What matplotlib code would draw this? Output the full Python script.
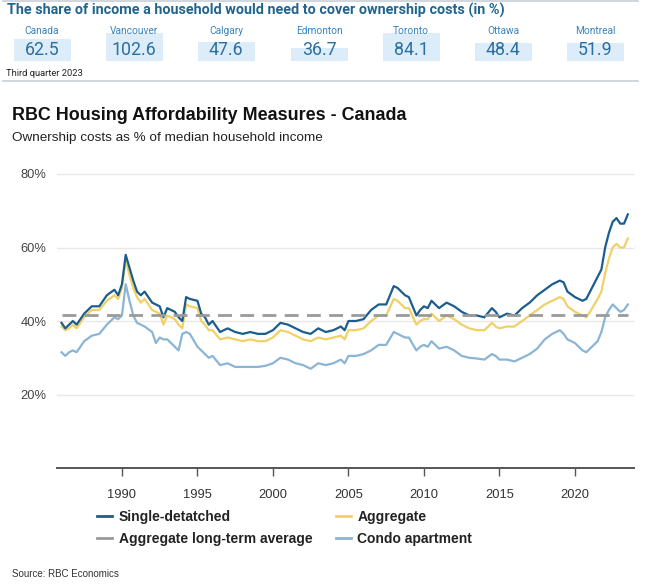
import matplotlib
matplotlib.use("Agg")
import matplotlib.pyplot as plt
from matplotlib.patches import Rectangle
from matplotlib.lines import Line2D

# ---------------- data ----------------
cities = ["Canada", "Vancouver", "Calgary", "Edmonton", "Toronto", "Ottawa", "Montreal"]
city_values = [62.5, 102.6, 47.6, 36.7, 84.1, 48.4, 51.9]

dates = [1986.0, 1986.25, 1986.5, 1986.75, 1987.0, 1987.5, 1988.0, 1988.5, 1989.0, 1989.5,
         1989.75, 1990.0, 1990.25, 1990.5, 1990.75, 1991.0, 1991.25, 1991.5, 1992.0, 1992.25,
         1992.5, 1992.75, 1993.0, 1993.5, 1993.75, 1994.0, 1994.25, 1994.5, 1995.0, 1995.25,
         1995.5, 1995.75, 1996.0, 1996.5, 1997.0, 1997.5, 1998.0, 1998.5, 1999.0, 1999.5,
         2000.0, 2000.5, 2001.0, 2001.5, 2002.0, 2002.5, 2003.0, 2003.5, 2004.0, 2004.5,
         2004.75, 2005.0, 2005.5, 2006.0, 2006.5, 2007.0, 2007.5, 2008.0, 2008.25, 2008.75,
         2009.0, 2009.5, 2009.75, 2010.0, 2010.25, 2010.5, 2011.0, 2011.5, 2012.0, 2012.5,
         2013.0, 2013.5, 2014.0, 2014.5, 2014.75, 2015.0, 2015.5, 2016.0, 2016.5, 2017.0,
         2017.5, 2018.0, 2018.5, 2019.0, 2019.25, 2019.5, 2020.0, 2020.5, 2020.75, 2021.0,
         2021.5, 2021.75, 2022.0, 2022.25, 2022.5, 2022.75, 2023.0, 2023.25, 2023.5]

single_detached = [39.5, 38.0, 39.0, 40.0, 39.0, 42.0, 44.0, 44.0, 47.0, 48.5,
                   47.0, 50.0, 58.0, 54.5, 51.0, 48.0, 47.0, 48.0, 45.0, 44.5,
                   44.0, 41.0, 43.5, 42.5, 41.0, 40.0, 46.5, 46.0, 45.5, 42.0,
                   41.0, 39.0, 40.0, 37.0, 38.0, 37.0, 36.5, 37.0, 36.5, 36.5,
                   37.5, 39.5, 39.0, 38.0, 37.0, 36.5, 38.0, 37.0, 37.5, 38.5,
                   37.5, 40.0, 40.0, 40.5, 43.0, 44.5, 44.5, 49.5, 49.0, 47.0,
                   46.5, 41.5, 43.0, 44.0, 43.5, 45.5, 43.5, 45.0, 44.0, 42.5,
                   41.5, 41.5, 41.0, 43.5, 42.5, 41.0, 42.0, 41.5, 43.5, 45.0,
                   47.0, 48.5, 50.0, 51.0, 50.5, 48.0, 46.5, 45.5, 46.0, 48.0,
                   52.0, 54.0, 60.0, 64.0, 67.0, 68.0, 66.5, 66.5, 69.0]

aggregate = [38.5, 37.5, 38.0, 39.0, 38.0, 41.0, 43.0, 43.0, 45.5, 47.0,
             46.0, 49.0, 56.5, 52.5, 49.0, 46.5, 45.0, 46.0, 43.0, 42.5,
             42.0, 39.0, 41.5, 40.5, 39.0, 38.0, 44.5, 44.0, 43.5, 40.0,
             39.0, 37.5, 37.5, 35.0, 35.5, 35.0, 34.5, 35.0, 34.5, 34.5,
             35.5, 37.5, 37.0, 36.0, 35.0, 34.5, 35.5, 35.0, 35.5, 36.0,
             35.0, 37.5, 37.5, 38.0, 40.0, 41.5, 41.5, 46.0, 45.5, 43.5,
             43.5, 39.0, 40.0, 40.5, 40.5, 42.0, 40.0, 41.5, 40.5, 39.0,
             38.0, 37.5, 37.5, 39.5, 38.5, 38.0, 38.5, 38.5, 40.0, 41.5,
             43.0, 44.5, 45.5, 46.5, 46.0, 44.0, 42.5, 41.5, 41.0, 42.5,
             46.0, 48.0, 53.0, 57.0, 60.0, 61.0, 60.0, 60.0, 62.5]

condo = [31.5, 30.5, 31.5, 32.0, 31.5, 34.5, 36.0, 36.5, 39.0, 41.0,
         40.5, 41.5, 50.0, 45.5, 41.5, 39.5, 39.0, 38.5, 37.0, 34.0,
         35.5, 35.0, 35.0, 33.0, 32.0, 36.5, 37.0, 36.5, 33.0, 32.0,
         31.0, 30.0, 30.5, 28.0, 28.5, 27.5, 27.5, 27.5, 27.5, 27.8,
         28.5, 30.0, 29.5, 28.5, 28.0, 27.0, 28.5, 28.0, 28.5, 29.5,
         28.5, 30.5, 30.5, 31.0, 32.0, 33.5, 33.5, 37.0, 36.5, 35.5,
         35.5, 32.0, 33.0, 33.5, 33.0, 34.5, 32.5, 33.0, 32.0, 30.5,
         30.0, 29.8, 29.5, 31.0, 30.5, 29.5, 29.5, 29.0, 30.0, 31.0,
         32.5, 35.0, 36.5, 37.5, 36.5, 35.0, 34.0, 32.0, 31.5, 32.5,
         34.5, 37.0, 41.0, 43.0, 44.5, 43.5, 42.5, 43.0, 44.5]

long_term_avg = 41.5
year_ticks = [1990, 1995, 2000, 2005, 2010, 2015, 2020]
y_ticks = [20, 40, 60, 80]

# ---------------- styling ----------------
W, H = 660, 584
C_SD = "#1b5e8e"
C_AGG = "#f1d165"
C_AVG = "#9a9a9a"
C_CONDO = "#8bb5d5"
BANNER = "#20658f"
NARROW = ["Roboto", "DejaVu Sans"]
SANS = ["Liberation Sans", "DejaVu Sans"]

fig = plt.figure(figsize=(W / 100, H / 100), dpi=100)
fig.patch.set_facecolor("white")
renderer = fig.canvas.get_renderer()

def fx(px):
    return px / W

def fy(py):
    return 1 - py / H

def fit_width(t, target_px):
    w = t.get_window_extent(renderer=renderer).width
    if w > 0:
        t.set_fontsize(t.get_fontsize() * target_px / w)

# ---- top banner ----
fig.add_artist(Line2D([fx(3), fx(638)], [fy(0.8), fy(0.8)], color="#c8d0d8", lw=1.2))
fig.add_artist(Line2D([fx(3), fx(638)], [fy(80.5), fy(80.5)], color="#c8d0d8", lw=1.2))
t = fig.text(fx(7), fy(10), "The share of income a household would need to cover ownership costs (in %)",
             family=NARROW, weight="bold", fontsize=11, color=BANNER, va="center", ha="left")
fit_width(t, 500)

centers = [42, 134, 226, 319, 411, 503, 595]
box_heights = [22, 28, 19, 13, 28, 18, 18]
box_w = 57
for c, name, val, bh in zip(centers, cities, city_values, box_heights):
    fig.add_artist(Rectangle((fx(c - box_w / 2), fy(61)), box_w / W, bh / H,
                             facecolor="#dcedf9", edgecolor="none"))
    fig.text(fx(c), fy(31), name, family=NARROW, fontsize=7.3, color="#3a84bd",
             ha="center", va="center")
    fig.text(fx(c), fy(50), f"{val:.1f}", family=NARROW, fontsize=12.8, color="#2a6f9f",
             ha="center", va="center")
t = fig.text(fx(6), fy(74), "Third quarter 2023", family=NARROW, fontsize=6.5, color="#222222",
             ha="left", va="center")
fit_width(t, 77)

# ---- chart titles ----
fig.text(fx(12), fy(115), "RBC Housing Affordability Measures - Canada", family=SANS,
         weight="bold", fontsize=12.85, color="#111111", ha="left", va="center")
fig.text(fx(12), fy(138), "Ownership costs as % of median household income", family=SANS,
         fontsize=9.7, color="#222222", ha="left", va="center")

# ---- axes ----
ax_left, ax_right = 57, 634
y0_px = 468
ymax = 82
px_per = (320 - 173) / 40.0
top_px = y0_px - ymax * px_per
ax = fig.add_axes([fx(ax_left), fy(y0_px), (ax_right - ax_left) / W, (y0_px - top_px) / H])
ax.set_xlim(1985.7, 2023.91)
ax.set_ylim(0, ymax)

for v in y_ticks:
    ax.axhline(v, color="#e8e8e8", lw=1, zorder=0)

ax.plot(dates, condo, color=C_CONDO, lw=1.6, zorder=3)
ax.plot(dates, aggregate, color=C_AGG, lw=1.6, zorder=4)
ax.plot(dates, single_detached, color=C_SD, lw=1.6, zorder=5)
ax.plot([dates[0], dates[-1]], [long_term_avg, long_term_avg], color=C_AVG, lw=2.0,
        dashes=(5, 3), zorder=6)

for s in ["top", "right", "left"]:
    ax.spines[s].set_visible(False)
ax.spines["bottom"].set_color("#555555")
ax.spines["bottom"].set_linewidth(1.4)

ax.set_xticks(year_ticks)
ax.set_xticklabels([str(y) for y in year_ticks], family=SANS, fontsize=9.3, color="#333333")
ax.tick_params(axis="x", length=6, width=1, color="#555555", pad=9)
ax.set_yticks(y_ticks)
ax.set_yticklabels([f"{v}%" for v in y_ticks], family=SANS, fontsize=9.3, color="#444444")
ax.tick_params(axis="y", length=0, pad=7.5)

# ---- legend ----
handles = [Line2D([], [], color=C_SD, lw=2),
           Line2D([], [], color=C_AVG, lw=2),
           Line2D([], [], color=C_AGG, lw=2),
           Line2D([], [], color=C_CONDO, lw=2)]
labels = ["Single-detatched", "Aggregate long-term average", "Aggregate", "Condo apartment"]
leg = fig.legend(handles, labels, ncol=2, loc="upper left",
                 bbox_to_anchor=(fx(97), fy(510)), frameon=False,
                 prop={"family": SANS, "size": 10, "weight": "bold"},
                 handlelength=1.1, handletextpad=0.45, columnspacing=1.7,
                 labelspacing=0.55, borderaxespad=0, borderpad=0)
for t in leg.get_texts():
    t.set_color("#222222")

fig.text(fx(12), fy(574), "Source: RBC Economics", family=SANS, fontsize=7, color="#333333",
         ha="left", va="center")

fig.savefig("out.png", dpi=100, facecolor="white")
